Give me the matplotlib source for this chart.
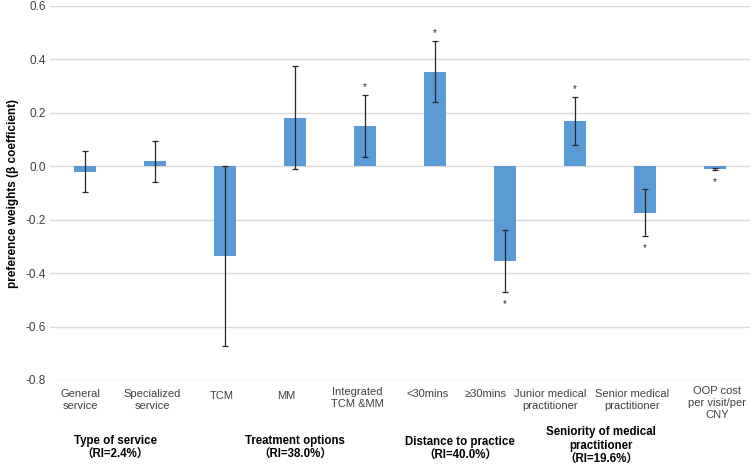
import matplotlib.pyplot as plt
import matplotlib.transforms as mtransforms

plt.rcParams['font.family'] = ['Liberation Sans', 'Noto Sans CJK SC', 'DejaVu Sans']

# ---------------------------------------------------------------------
# Data
# ---------------------------------------------------------------------
levels = ["General\nservice", "Specialized\nservice", "TCM", "MM",
          "Integrated\nTCM &MM", "<30mins", "≥30mins",
          "Junior medical\npractitioner", "Senior medical\npractitioner",
          "OOP cost\nper visit/per\nCNY"]
coefs = [-0.021, 0.019, -0.336, 0.182, 0.151, 0.354, -0.355, 0.171, -0.174, -0.010]
errs = [0.077, 0.077, 0.336, 0.193, 0.116, 0.115, 0.115, 0.090, 0.088, 0.003]
significant = [False, False, False, False, True, True, True, True, True, True]

groups = ["Type of service\n（RI=2.4%）", "Treatment options\n（RI=38.0%）",
          "Distance to practice\n（RI=40.0%）",
          "Seniority of medical\npractitioner\n（RI=19.6%）"]

# layout of the text under the axis (category units / figure pixels from top)
level_pos = [-0.07, 0.96, 1.96, 2.87, 3.89, 4.90, 5.72, 6.65, 7.81, 9.03]
level_top = [389, 389, 391, 391, 387, 389, 389, 389, 389, 386]
group_pos = [0.43, 3.0, 5.36, 7.37]
group_top = [435, 435, 436, 426]

# ---------------------------------------------------------------------
# Plot
# ---------------------------------------------------------------------
W, H = 753, 467
fig = plt.figure(figsize=(W / 100, H / 100), dpi=100)
ax = fig.add_axes([50 / W, 1 - 380 / H, 700 / W, 374 / H])

x = list(range(len(levels)))
ax.bar(x, coefs, width=0.32, color="#5B9BD5", zorder=3)
ax.errorbar(x, coefs, yerr=errs, fmt="none", ecolor="#262626",
            elinewidth=0.9, capsize=2.5, capthick=0.9, zorder=4)

# significance stars
for xi, c, e, s in zip(x, coefs, errs, significant):
    if not s:
        continue
    if c >= 0:
        ax.annotate("*", (xi, c + e), xytext=(0, 2), textcoords="offset points",
                    ha="center", va="bottom", fontsize=7, color="#262626")
    else:
        ax.annotate("*", (xi, c - e), xytext=(0, -5), textcoords="offset points",
                    ha="center", va="top", fontsize=7, color="#262626")

ax.set_xlim(-0.5, len(levels) - 0.5)
ax.set_ylim(-0.8, 0.6)
ax.set_yticks([-0.8, -0.6, -0.4, -0.2, 0.0, 0.2, 0.4, 0.6])
ax.set_yticklabels([f"{v:.1f}" for v in ax.get_yticks()])
ax.set_xticks(x)
ax.set_xticklabels([])
ax.tick_params(axis="y", labelsize=8.5, labelcolor="#404040", length=0, pad=3)
ax.tick_params(axis="x", length=0)
ax.grid(axis="y", color="#D9D9D9", linewidth=1, zorder=0)
for sp in ax.spines.values():
    sp.set_visible(False)

ax.set_ylabel("preference weights (β coefficient)", fontsize=8.5,
              fontweight="bold", labelpad=5)

# category labels and attribute group labels under the axis
trans = mtransforms.blended_transform_factory(ax.transData, fig.transFigure)
for lab, lx, lt in zip(levels, level_pos, level_top):
    ax.text(lx, 1 - lt / H, lab, transform=trans, ha="center", va="top",
            fontsize=8, color="#404040", linespacing=1.25)
for g, gx, gt in zip(groups, group_pos, group_top):
    ax.text(gx, 1 - gt / H, g, transform=trans, ha="center", va="top",
            fontsize=8.3, fontweight="bold", linespacing=1.2, color="#000000")

fig.savefig("out.png", dpi=100)
